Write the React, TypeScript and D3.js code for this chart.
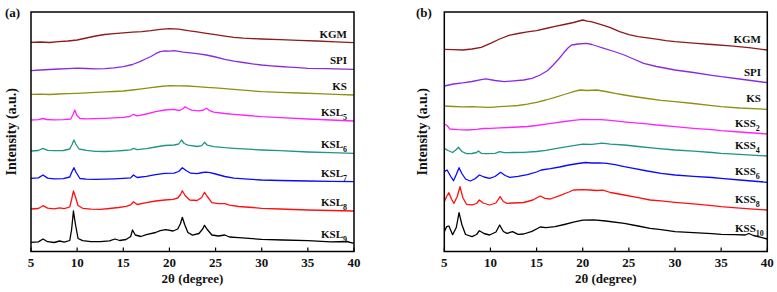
import React from "react";
import * as d3 from "d3";

type Pt = [number, number];

// ---------- data (2θ in degree, intensity in a.u., stacked offsets included) ----------
const xTicks = [5, 10, 15, 20, 25, 30, 35, 40];

const namesA = ["KGM", "SPI", "KS", "KSL5", "KSL6", "KSL7", "KSL8", "KSL9"];
const namesB = ["KGM", "SPI", "KS", "KSS2", "KSS4", "KSS6", "KSS8", "KSS10"];

const colorsA = ["#8e1b1b", "#8a2be2", "#8f8f14", "#ff22ff", "#1f9585", "#0a0aff", "#ff1010", "#000000"];
const colorsB = ["#8e1b1b", "#8a2be2", "#8f8f14", "#ff22ff", "#1f9585", "#0a0aff", "#ff1010", "#000000"];

const kgmA: Pt[] = [[5,209.2],[6,209.5],[7,209],[8,209.8],[9,210.5],[10,211.5],[11,213.5],[12,215.5],[13,217],[14,217.8],[15,218.6],[16,219.3],[17,219.8],[18,220.8],[19,222.2],[20,222.8],[21,222.3],[22,220.8],[23,219.6],[24,218.2],[25,216.8],[26,215.4],[27,214.2],[28,213.4],[29,212.9],[30,212.5],[32,211.8],[34,211.2],[36,210.5],[38,209.6],[40,208.8]];
const spiA: Pt[] = [[5,180.8],[6,181.5],[7,182],[8,182.5],[9,182.9],[10,183.4],[11,183],[12,182.6],[13,182.8],[14,183.6],[15,184.8],[16,187],[16.8,189.8],[17.4,192.5],[18,195],[18.5,197.8],[19,199.8],[19.5,200.6],[20,200.4],[20.5,200.9],[21,200.2],[21.5,199.4],[22,198.8],[23,197.8],[24,196.5],[25,194.5],[26,192.2],[27,190.4],[28,189],[29,187.6],[30,186.5],[31,185.7],[32,185],[33,184.3],[34,183.8],[35,183.2],[37,182.9],[40,182.2]];
const ksA: Pt[] = [[5,157.2],[6,157.4],[7,157],[8,157.5],[9,157.8],[10,158.2],[11,158.6],[12,159.1],[13,159.6],[14,160],[15,160.5],[16,161.5],[17,162.6],[18,163.8],[19,165],[20,165.9],[21,165.7],[22,165.5],[23,164.9],[24,164.2],[25,163.6],[26,162.8],[27,162.2],[28,161.4],[29,160.6],[30,159.8],[32,159.2],[34,158.5],[36,157.9],[38,157.2],[40,156.5]];
const ksl5: Pt[] = [[5,131.5],[5.8,131.8],[6.3,133],[6.7,132],[7.5,131.6],[8.5,131.8],[9.3,132.5],[9.55,137],[9.75,141.5],[9.95,136.5],[10.3,133],[11,132.6],[12,132.8],[13,133.2],[14,133.6],[15,134.2],[15.7,135],[16.1,137.2],[16.5,135.6],[17.5,137.5],[18.5,139.8],[19.5,141.5],[20.4,142.2],[21.1,141],[21.5,143],[21.7,144.8],[22,143],[22.4,141.4],[23.2,140.6],[23.7,141.5],[24,143.2],[24.3,141.2],[24.8,139.4],[26,138],[27,137.2],[28.5,136],[30,134.8],[32,133.8],[35,132.5],[37.5,131.5],[40,130.5]];
const ksl6: Pt[] = [[5,100.5],[5.8,101],[6.3,103.2],[6.8,101.2],[7.5,100.8],[8.5,101],[9.2,102.5],[9.45,107],[9.65,111.5],[9.85,107.5],[10.2,102.5],[11,101.2],[12,100.2],[13,100],[14,100.4],[15,101],[15.8,101.6],[16.1,103.2],[16.5,101.8],[17.5,102.8],[18.5,104.5],[19.5,106],[20.5,106.5],[21,107.5],[21.3,111.5],[21.6,108],[22,106.3],[23,105],[23.5,105.8],[23.8,109.2],[24.1,106.3],[24.8,104.8],[26,103.8],[27,103.2],[28.5,102.3],[30,101.5],[32,100.8],[35,99.5],[37.5,98.8],[40,98.2]];
const ksl7: Pt[] = [[5,73.2],[5.8,73.6],[6.3,76.5],[6.8,73.4],[7.5,72.7],[8.5,72.8],[9.2,74.5],[9.45,80],[9.65,83.8],[9.9,79],[10.3,73],[11,72.4],[12,72.2],[13,72.4],[14,72.7],[15,73.2],[15.8,73.6],[16.1,76.5],[16.5,74],[17.5,75.2],[18.5,76.8],[19.5,78.2],[20.5,78.4],[21,80],[21.4,83.8],[21.8,81],[22.3,78.3],[23,77.8],[23.6,79],[24,79.4],[24.4,78.8],[25,77.5],[26,75],[27,73.4],[28.5,72.3],[30,71.5],[32,71],[35,70.5],[37.5,70.1],[40,69.8]];
const ksl8: Pt[] = [[5,42.5],[5.8,43],[6.3,45.8],[6.8,43.4],[7.5,42.6],[8.1,43.6],[8.6,42.8],[9.2,44.5],[9.4,52],[9.6,60.5],[9.8,55],[10.1,46],[10.6,43.2],[11.5,42.4],[12.5,42.2],[13.5,43],[14.5,44],[15.3,45.2],[15.8,46.6],[16.1,49.8],[16.5,47],[17.5,48.8],[18.5,50.5],[19.5,51.5],[20.4,52.2],[20.9,53.5],[21.2,57],[21.4,60.8],[21.7,56],[22.2,51.5],[23,51],[23.5,54],[23.8,59.2],[24.1,55],[24.6,48.8],[25.3,47.8],[26,47.8],[26.5,46.4],[27.5,45],[29,44],[30,43.2],[32,42.5],[35,41.5],[37.5,41],[40,40.5]];
const ksl9: Pt[] = [[5,9.2],[5.8,9.6],[6.3,12.5],[6.8,9.8],[7.5,9],[8.1,10.5],[8.6,9.4],[9.2,11],[9.4,22],[9.6,40.5],[9.8,28],[10.1,13],[10.6,10.8],[11.5,9.8],[12.5,9.8],[13.5,10.6],[14.1,12.5],[14.6,11],[15.3,12],[15.8,15],[16.0,21.5],[16.3,16.5],[16.9,15],[17.5,16.8],[18.5,19],[19,20.8],[19.6,21.8],[20.4,20.5],[20.9,22.5],[21.2,28],[21.4,34.2],[21.65,27],[22,19],[22.5,16.4],[23.2,18],[23.6,22.5],[23.8,26.2],[24.1,22],[24.6,16.5],[25.3,15.5],[26,16.5],[26.5,14.5],[27.5,13.8],[29,12.8],[30,12.2],[32.3,11.5],[35,10.8],[37.5,9.6],[39.2,10],[40,8.2]];

const kgmB: Pt[] = [[5,202.2],[6,201.8],[7,201.5],[8,202.5],[9,204.2],[10,208.2],[11,212.5],[12,216.2],[13,218],[14,219.6],[15,220.8],[16,223],[17,225.2],[18,227],[19,229],[20,231.5],[20.5,230.4],[21,229.6],[22,226.8],[23,223.8],[24,219.8],[25,216.8],[26,214.8],[27,213.6],[28,212.4],[29,210.8],[30,209.8],[32,208.4],[34,207],[36,205.6],[38,203.8],[40,201.5]];
const spiB: Pt[] = [[5,165.5],[6,167.5],[7,168.6],[8,170],[9,171.8],[9.5,172.6],[10.5,171],[11.5,169.8],[12.5,170.6],[13.6,171.5],[14.5,173.2],[15.4,176.5],[16.2,181],[16.8,186.5],[17.4,192.5],[17.9,198.2],[18.4,203.5],[18.8,206.5],[19.5,207.5],[20.4,208.2],[21,207],[21.5,205.5],[22.3,203.2],[23.4,200],[24.5,196.5],[25.5,192.5],[26.6,188.2],[28,185],[30,181.5],[32,179],[34,176.2],[35,174.8],[37,172.5],[40,168.8]];
const ksB: Pt[] = [[5,145.5],[6,145],[7,144.6],[8,144.8],[9,144.4],[10,144.2],[11,144.8],[12,145.4],[13,146],[14,147.3],[15,149.2],[16,151.5],[17,154.2],[18,157],[19,159.8],[19.7,161.5],[20.5,161],[21.5,161.5],[22.5,160],[23.5,158.2],[24.5,156.5],[25.5,155],[27,153],[28.5,151.2],[30,149.8],[32,148],[34,145.8],[35,144.8],[37,143.5],[40,142.2]];
const kss2: Pt[] = [[5,127.5],[5.3,126],[5.6,122.5],[6.5,121.8],[7.5,121.5],[8.5,122.2],[9.2,123],[10,123.2],[11,123.6],[12,124],[13,124.5],[14,125],[15,126],[16,127.4],[17,128.6],[18,130],[19,131.2],[20,132.2],[21,131.8],[22,131.8],[23,131.2],[24,130.2],[25,129.2],[26,128.4],[27,127.6],[28,126.5],[30,124.8],[32,123.2],[34,121.8],[35,120.8],[37,119.5],[40,117.5]];
const kss4: Pt[] = [[5,103.2],[5.4,101],[5.9,99],[6.3,102],[6.55,104.2],[6.9,100],[7.4,97.8],[8,98],[8.5,99],[8.7,100.5],[9,98.2],[9.6,97.8],[10.5,98.2],[11,99.8],[11.5,98.8],[12.5,99],[13.6,99.2],[15,100],[16,101.2],[17.2,103.2],[18.5,105.2],[20,107.4],[21,107.2],[22.1,108.4],[23,107.4],[24.5,106.5],[26,105],[28,103.2],[30,101.5],[32,100.4],[34,99],[35,98.2],[37,97.2],[40,95.5]];
const kss6: Pt[] = [[5,79.8],[5.3,81.5],[5.7,75],[6.0,70.8],[6.3,77],[6.6,83.8],[6.9,78],[7.3,72.5],[7.8,70.5],[8.3,72.5],[8.8,76.5],[9.3,74.5],[9.9,73.2],[10.5,75],[11.1,79.2],[11.6,76],[12.1,74.2],[13,75.2],[14,76.8],[15,79.5],[15.5,81.5],[16.5,82.8],[17.5,84.5],[18.5,86.5],[19.5,88],[20.3,89],[21,88.5],[21.8,88.6],[22.6,88.2],[23.5,86.8],[24.5,84.8],[25.5,83.2],[27,80.5],[28.5,78.2],[30,76.5],[32,75.2],[34,74],[35,73.2],[37,71.5],[40,69.2]];
const kss8: Pt[] = [[5,49.8],[5.25,55],[5.5,58.8],[5.8,52],[6.05,48.2],[6.4,55],[6.7,64.8],[7.0,54],[7.4,47.2],[8,46.6],[8.5,48],[8.8,51.5],[9.2,48.5],[9.9,46.5],[10.6,48.5],[11.05,54.8],[11.4,50],[11.8,48.2],[12.5,48.5],[13.6,49],[14.6,51.5],[15.4,55.5],[15.9,53.2],[16.5,52.5],[17.5,55.8],[18.5,59.5],[19,61.5],[20,61.8],[20.8,61.5],[21.5,61],[22.2,61.3],[23,59],[24.5,56.5],[26,53.8],[27.3,51.5],[28.5,50.6],[30,49.2],[32,47.6],[34,45.8],[35,44.8],[37,43.3],[40,41.5]];
const kss10: Pt[] = [[5,19.8],[5.25,24.8],[5.5,25.5],[5.9,16.8],[6.3,24],[6.6,38.8],[6.9,27],[7.3,17],[8,14.8],[8.5,17],[8.8,20.8],[9.3,18],[9.9,16.5],[10.6,19.5],[11,26.5],[11.4,20],[11.8,18.2],[12.4,19.8],[13,17.2],[13.6,17.5],[14.5,20.2],[15.4,24.5],[16,23.8],[17,24.8],[18,27],[19,29.4],[20,31.4],[21.2,31.6],[22.5,30.5],[24.5,28.2],[26,25.5],[27.3,23.2],[28.5,21.8],[30,19.8],[32,18.8],[34,17.8],[35,17.2],[36.5,16.8],[37.6,16.5],[38,18],[38.5,16],[40,12.5]];

const seriesA = [kgmA, spiA, ksA, ksl5, ksl6, ksl7, ksl8, ksl9];
const seriesB = [kgmB, spiB, ksB, kss2, kss4, kss6, kss8, kss10];

// ---------- layout ----------
const W = 777;
const H = 292;
const FONT = "'Liberation Serif', 'Times New Roman', serif";

type PanelProps = {
  left: number;
  right: number;
  letter: string;
  letterX: number;
  yTitleX: number;
  names: string[];
  colors: string[];
  series: Pt[][];
  labelRight: number;
  labelStartSub: number | null;
  labelGap: number;
};

function splitName(n: string): [string, string] {
  const m = n.match(/^([A-Z]+)(\d*)$/);
  return m ? [m[1], m[2]] : [n, ""];
}

function Panel(p: PanelProps) {
  const top = 12;
  const bottom = 251.5;
  const x = d3.scaleLinear().domain([5, 40]).range([p.left, p.right]);
  const y = d3.scaleLinear().domain([0, 239.5]).range([bottom, top]);
  const line = d3
    .line<Pt>()
    .x((d) => x(d[0]))
    .y((d) => y(d[1]))
    .curve(d3.curveLinear);

  return (
    <g>
      <defs>
        <clipPath id={"clip" + p.letter}>
          <rect x={p.left} y={top} width={p.right - p.left} height={bottom - top} />
        </clipPath>
      </defs>
      <g clipPath={`url(#clip${p.letter})`}>
        {p.series.map((s, i) => (
          <path
            key={i}
            d={line(s) || ""}
            fill="none"
            stroke={p.colors[i]}
            strokeWidth={1.3}
            strokeLinejoin="round"
          />
        ))}
      </g>
      {p.series.map((s, i) => {
        const [main, sub] = splitName(p.names[i]);
        const last = s[s.length - 1];
        const cy = y(last[1]) - p.labelGap;
        const useStart = sub !== "" && p.labelStartSub !== null;
        return (
          <text
            key={"l" + i}
            x={useStart ? (p.labelStartSub as number) : p.labelRight}
            y={cy + 4}
            textAnchor={useStart ? "start" : "end"}
            fontFamily={FONT}
            fontWeight="bold"
            fontSize={11}
            fill="#111"
          >
            {main}
            {sub && (
              <tspan fontSize={8} dy={4}>
                {sub}
              </tspan>
            )}
          </text>
        );
      })}
      <rect
        x={p.left}
        y={top}
        width={p.right - p.left}
        height={bottom - top}
        fill="none"
        stroke="#000"
        strokeWidth={1.5}
      />
      {xTicks.map((t) => (
        <g key={t}>
          <line x1={x(t)} x2={x(t)} y1={bottom} y2={bottom - 4} stroke="#000" strokeWidth={1.2} />
          <text
            x={x(t)}
            y={266.5}
            textAnchor="middle"
            fontFamily={FONT}
            fontWeight="bold"
            fontSize={13}
            fill="#111"
          >
            {t}
          </text>
        </g>
      ))}
      <text
        x={(p.left + p.right) / 2}
        y={282.5}
        textAnchor="middle"
        fontFamily={FONT}
        fontWeight="bold"
        fontSize={13}
        fill="#111"
      >
        2θ (degree)
      </text>
      <text
        transform={`translate(${p.yTitleX},${(top + bottom) / 2}) rotate(-90)`}
        textAnchor="middle"
        dominantBaseline="central"
        fontFamily={FONT}
        fontWeight="bold"
        fontSize={14}
        fill="#111"
      >
        Intensity (a.u.)
      </text>
      <text
        x={p.letterX}
        y={16.5}
        fontFamily={FONT}
        fontWeight="bold"
        fontSize={13}
        fill="#111"
      >
        ({p.letter})
      </text>
    </g>
  );
}

export default function App() {
  return (
    <svg
      width={W}
      height={H}
      viewBox={`0 0 ${W} ${H}`}
      style={{ position: "absolute", left: 0, top: 0, background: "#fff" }}
    >
      <rect x={0} y={0} width={W} height={H} fill="#fff" />
      <Panel
        left={31}
        right={354}
        letter="a"
        letterX={5}
        yTitleX={11}
        names={namesA}
        colors={colorsA}
        series={seriesA}
        labelRight={347}
        labelStartSub={null}
        labelGap={9}
      />
      <Panel
        left={444.3}
        right={767.3}
        letter="b"
        letterX={416}
        yTitleX={422}
        names={namesB}
        colors={colorsB}
        series={seriesB}
        labelRight={761}
        labelStartSub={735}
        labelGap={11}
      />
    </svg>
  );
}
